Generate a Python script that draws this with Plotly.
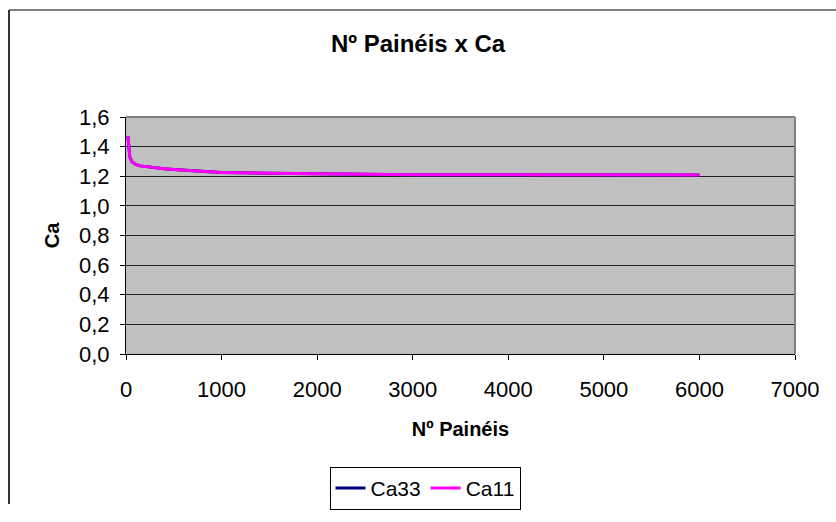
import plotly.graph_objects as go

paineis = [20, 40, 60, 80, 100, 150, 200, 300, 400, 500, 600, 800, 1000, 1500, 2000, 3000, 4000, 5000, 6000]
ca33 = [1.47, 1.33, 1.30, 1.29, 1.28, 1.27, 1.265, 1.255, 1.25, 1.245, 1.24, 1.23, 1.225, 1.22, 1.215, 1.21, 1.21, 1.208, 1.208]
ca11 = [1.47, 1.33, 1.30, 1.29, 1.28, 1.27, 1.265, 1.255, 1.25, 1.245, 1.24, 1.23, 1.225, 1.22, 1.215, 1.21, 1.21, 1.208, 1.208]
y_ticks = [0.0, 0.2, 0.4, 0.6, 0.8, 1.0, 1.2, 1.4, 1.6]
x_ticks = [0, 1000, 2000, 3000, 4000, 5000, 6000, 7000]

W, H = 836, 522
L, R, T, B = 126, 41, 117, 157
pw, ph = W - L - R, H - T - B

fig = go.Figure()
fig.add_trace(go.Scatter(x=paineis, y=ca33, mode="lines", name="Ca33",
                         line=dict(color="#000080", width=3)))
fig.add_trace(go.Scatter(x=paineis, y=ca11, mode="lines", name="Ca11",
                         line=dict(color="#FF00FF", width=3)))

def px_x(p):
    return (p - L) / pw

def px_y(p):
    return (H - B - p) / ph

shapes = [
    # outer chart frame (left & top)
    dict(type="line", xref="paper", yref="paper", x0=px_x(9), x1=px_x(836), y0=px_y(5), y1=px_y(5),
         line=dict(color="#808080", width=2)),
    dict(type="line", xref="paper", yref="paper", x0=px_x(9), x1=px_x(9), y0=px_y(5), y1=px_y(522),
         line=dict(color="#333333", width=2)),
    # plot area border (top & right)
    dict(type="line", xref="paper", yref="paper", x0=0, x1=1, y0=1, y1=1,
         line=dict(color="#808080", width=2)),
    dict(type="line", xref="paper", yref="paper", x0=1, x1=1, y0=0, y1=1,
         line=dict(color="#808080", width=2)),
]

fig.update_layout(
    width=W, height=H,
    margin=dict(l=L, r=R, t=T, b=B),
    paper_bgcolor="white",
    plot_bgcolor="#C0C0C0",
    separators=",.",
    font=dict(family="Arial, Liberation Sans, sans-serif", size=21, color="black"),
    title=dict(text="<b>Nº Painéis x Ca</b>", x=0.5, xref="container", xanchor="center",
               y=1 - 44 / H, yanchor="middle", font=dict(size=24, color="black")),
    xaxis=dict(range=[0, 7000], tickvals=x_ticks, tickformat="d", showgrid=False, zeroline=False,
               showline=True, linecolor="black", linewidth=1, ticks="outside", ticklen=5,
               tickcolor="black", tickfont=dict(size=22), ticklabelstandoff=11,
               title=dict(text="<b>Nº Painéis</b>", font=dict(size=20), standoff=20)),
    yaxis=dict(range=[0, 1.6], tickvals=y_ticks, tickformat=".1f", showgrid=True,
               gridcolor="#202020", gridwidth=1, zeroline=False,
               showline=True, linecolor="black", linewidth=1, ticks="outside", ticklen=5,
               tickcolor="black", tickfont=dict(size=22), ticklabelstandoff=6,
               title=dict(text="<b>Ca</b>", font=dict(size=20), standoff=14)),
    legend=dict(orientation="h", x=px_x(425), xanchor="center", y=px_y(483), yanchor="top",
                bordercolor="black", borderwidth=1, bgcolor="white", font=dict(size=21),
                itemwidth=30, tracegroupgap=0),
    shapes=shapes,
    showlegend=True,
)

fig.write_html("out.html")
